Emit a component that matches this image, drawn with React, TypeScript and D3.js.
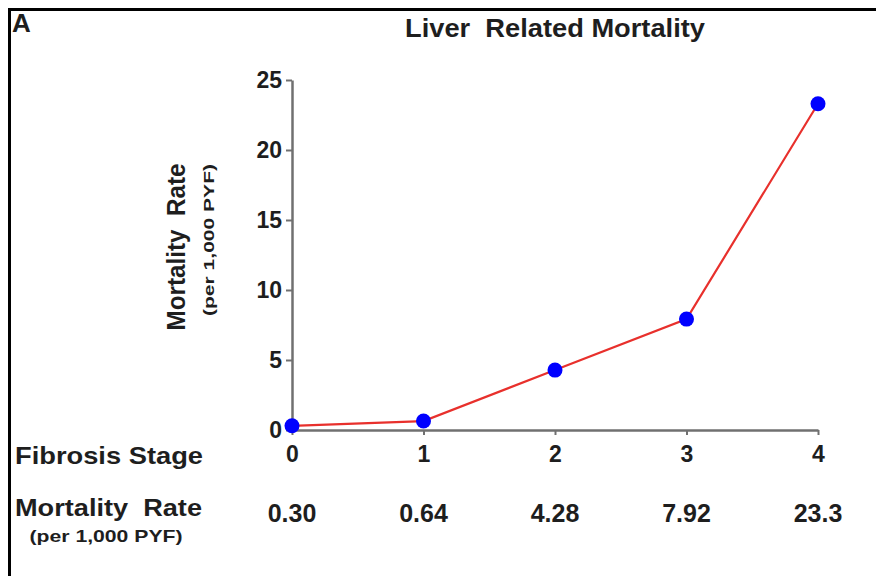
import { useEffect, useRef } from "react";
import * as d3 from "d3";

const stages = [0, 1, 2, 3, 4];
const rates = [0.30, 0.64, 4.28, 7.92, 23.3];
const rateLabels = ["0.30", "0.64", "4.28", "7.92", "23.3"];
const yTicks = [0, 5, 10, 15, 20, 25];

export default function App() {
    const ref = useRef<SVGSVGElement>(null);

    useEffect(() => {
        drawChart();
    }, []);

    function drawChart() {
        const width = 876, height = 576;
        const font = "Liberation Sans, Arial, sans-serif";
        const ink = "#1e1e1e";

        const svg = d3.select(ref.current);
        svg.selectAll("*").remove();

        // helper for the bold labels
        function label(txt: string, px: number, py: number, size: number, anchor: string, len?: number) {
            const t = svg.append("text")
                .attr("x", px).attr("y", py)
                .attr("text-anchor", anchor)
                .attr("font-family", font).attr("font-weight", "bold")
                .attr("font-size", size).attr("fill", ink)
                .attr("xml:space", "preserve")
                .text(txt);
            if (len) t.attr("textLength", len).attr("lengthAdjust", "spacingAndGlyphs");
            return t;
        }

        // frame (right and bottom edges fall outside the crop)
        svg.append("path")
            .attr("d", `M9.5,${height + 5} L9.5,9.5 L${width + 5},9.5`)
            .attr("fill", "none")
            .attr("stroke", "#000")
            .attr("stroke-width", 3);

        label("A", 12, 32, 26, "start");

        const x = d3.scaleLinear().domain([0, 4]).range([292, 818]);
        const y = d3.scaleLinear().domain([0, 25]).range([430, 80]);

        // title
        label("Liver  Related Mortality", 555, 37, 26, "middle", 300);

        const styleAxis = (g: any) => {
            g.select(".domain").attr("stroke", "#707070").attr("stroke-width", 2.5);
            g.selectAll(".tick line").attr("stroke", "#707070").attr("stroke-width", 2);
            g.selectAll(".tick text")
                .attr("font-family", font).attr("font-weight", "bold")
                .attr("font-size", 23).attr("fill", ink);
        };

        // y axis
        svg.append("g")
            .attr("transform", `translate(${x(0)},0)`)
            .call(d3.axisLeft(y).tickValues(yTicks).tickSize(6).tickSizeOuter(0).tickPadding(4))
            .call(styleAxis);

        // x axis
        svg.append("g")
            .attr("transform", `translate(0,${y(0)})`)
            .call(d3.axisBottom(x).tickValues(stages).tickSize(5).tickSizeOuter(0).tickPadding(11)
                .tickFormat(d3.format("d")))
            .call(styleAxis);

        // y axis label
        const yl = svg.append("g").attr("transform", "translate(185,247) rotate(-90)");
        yl.append("text")
            .attr("text-anchor", "middle")
            .attr("font-family", font).attr("font-weight", "bold")
            .attr("font-size", 25).attr("fill", ink)
            .attr("xml:space", "preserve")
            .attr("textLength", 167).attr("lengthAdjust", "spacingAndGlyphs")
            .text("Mortality  Rate");
        yl.append("text")
            .attr("x", 7).attr("y", 29)
            .attr("text-anchor", "middle")
            .attr("font-family", font).attr("font-weight", "bold")
            .attr("font-size", 15).attr("fill", ink)
            .attr("textLength", 152).attr("lengthAdjust", "spacingAndGlyphs")
            .text("(per 1,000 PYF)");

        // line + points
        const line = d3.line<number>()
            .x((d, i) => x(stages[i]))
            .y(d => y(d));
        svg.append("path")
            .datum(rates)
            .attr("d", line)
            .attr("fill", "none")
            .attr("stroke", "#e8302c")
            .attr("stroke-width", 2.2);

        svg.append("g")
            .selectAll("circle")
            .data(rates)
            .join("circle")
            .attr("cx", (d, i) => x(stages[i]))
            .attr("cy", d => y(d))
            .attr("r", 7.5)
            .attr("fill", "#0000ff");

        // table rows
        label("Fibrosis Stage", 203, 464, 24, "end", 188);
        label("Mortality  Rate", 202, 516, 24, "end", 187);
        label("(per 1,000 PYF)", 106, 542, 17, "middle", 153);

        svg.append("g")
            .selectAll("text")
            .data(rateLabels)
            .join("text")
            .attr("x", (d, i) => x(stages[i]))
            .attr("y", 522)
            .attr("text-anchor", "middle")
            .attr("font-family", font).attr("font-weight", "bold")
            .attr("font-size", 25).attr("fill", ink)
            .text(d => d);
    }

    return (
        <svg ref={ref} width={876} height={576}
            style={{ position: "absolute", left: 0, top: 0, background: "#fff" }} />
    );
}
